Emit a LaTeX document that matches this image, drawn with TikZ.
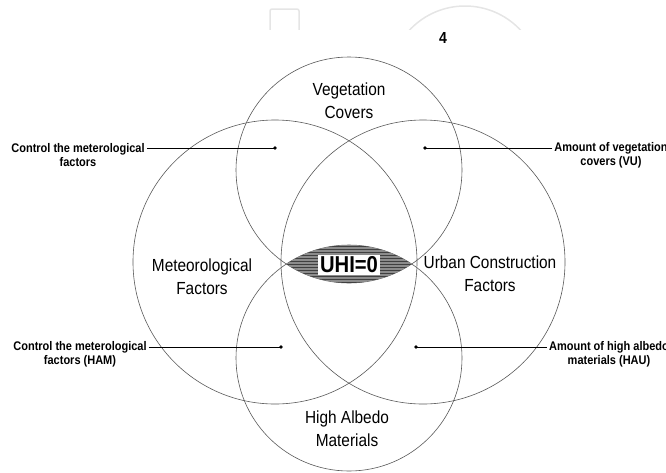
\documentclass[tikz,border=0pt]{standalone}
\usepackage{fontspec}
\setmainfont{Liberation Sans}[FakeStretch=0.88]
\usetikzlibrary{patterns}

\begin{document}
\begin{tikzpicture}[x=1pt,y=-1pt,
  circ/.style={draw=black!65, line width=0.6pt},
  area/.style={font=\fontsize{17.5}{23}\selectfont, align=center, inner sep=0pt},
  note/.style={font=\bfseries\fontsize{12.5}{14}\selectfont, align=center, inner sep=2pt},
  lead/.style={line width=0.8pt}]
\useasboundingbox (0,0) rectangle (666,472);
%\draw[draw=black] (0,0) rectangle (666,472);
% faint marks at the top edge
\begin{scope}
\clip (0,0) rectangle (666,29);
\draw[black!10, line width=1.5pt, rounded corners=2pt] (270,40)--(270,9)--(299,9)--(299,40);
\draw[black!10, line width=1.5pt] (465,82) circle (76);
\end{scope}
\node[font=\bfseries\fontsize{16}{16}\selectfont] (page) at (443,38) {4};
% the four circles
\draw[circ] (349,170) circle (113);
\draw[circ] (349,358) circle (113);
\draw[circ] (275,262) circle (142);
\draw[circ] (423,262) circle (142);
% shaded lens
\begin{scope}
\clip (349,170) circle (113);
\fill[black!45] (349,358) circle (113);
\fill[pattern=horizontal lines, pattern color=black!75] (349,358) circle (113);
%\fill[pattern=horizontal lines, pattern color=black!85] (349,358) circle (113);
\end{scope}
\node[fill=white, inner sep=2pt, font=\bfseries\fontsize{23}{23}\selectfont] (uhi) at (349,265) {UHI=0};
\node[area] (veg) at (349,101) {Vegetation\\Covers};
\node[area] (met) at (202,277) {Meteorological\\Factors};
\node[area] (urb) at (490,274) {Urban Construction\\Factors};
\node[area] (alb) at (347,429) {High Albedo\\Materials};
% call-outs
\coordinate (dotMV) at (275,148);
\coordinate (dotVU) at (425,148);
\coordinate (dotHAM) at (281,347);
\coordinate (dotHAU) at (416,347);
\node[note] (ctlMV) at (78,155) {Control the meterological\\factors};
\node[note] (amtVU) at (611,155) {Amount of vegetation\\covers (VU)};
\node[note] (ctlHAM) at (80,354) {Control the meterological\\factors (HAM)};
\node[note] (amtHAU) at (609,354) {Amount of high albedo\\materials (HAU)};
\draw[lead] (ctlMV.east |- dotMV) -- (dotMV);
\draw[lead] (amtVU.west |- dotVU) -- (dotVU);
\draw[lead] (ctlHAM.east |- dotHAM) -- (dotHAM);
\draw[lead] (amtHAU.west |- dotHAU) -- (dotHAU);
\foreach \d in {dotMV,dotVU,dotHAM,dotHAU}
  \fill (\d) circle (1.9);
\end{tikzpicture}
\end{document}
